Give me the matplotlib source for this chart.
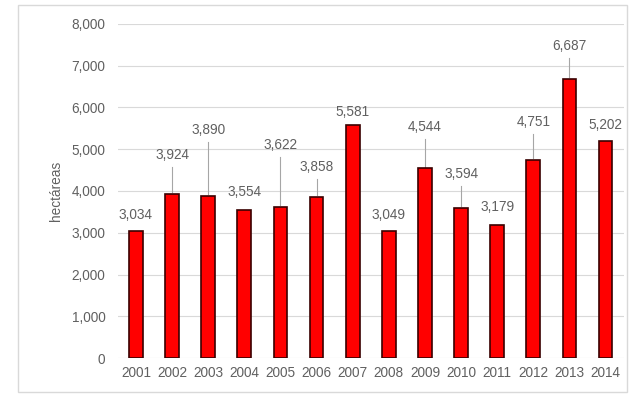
import matplotlib
matplotlib.use("Agg")
import matplotlib.pyplot as plt
from matplotlib.patches import Rectangle

years = ["2001", "2002", "2003", "2004", "2005", "2006", "2007",
         "2008", "2009", "2010", "2011", "2012", "2013", "2014"]
hectareas = [3034, 3924, 3890, 3554, 3622, 3858, 5581,
             3049, 4544, 3594, 3179, 4751, 6687, 5202]
# where each value label sits (data units)
label_y = [3425, 4862, 5461, 3976, 5102, 4575, 5892,
           3425, 5533, 4407, 3617, 5653, 7473, 5581]

plt.rcParams['font.family'] = ['Liberation Sans', 'DejaVu Sans']
txt = '#606060'
fs = 9.8

fig = plt.figure(figsize=(6.3, 3.97), dpi=100)
ax = fig.add_axes([0.187, 0.098, 0.803, 0.842])

x = list(range(len(years)))
ax.bar(x, hectareas, width=0.38, color='#ff0000', edgecolor='#3a0000',
       linewidth=1.2, zorder=3)

for i, v in enumerate(hectareas):
    ax.text(i, label_y[i], f"{v:,}", ha='center', va='center',
            fontsize=fs, color=txt, zorder=4)
    if label_y[i] - v > 500:
        ax.plot([i, i], [v + 40, label_y[i] - 290], color='#a6a6a6',
                linewidth=0.8, zorder=2)

ax.set_xlim(-0.5, len(years) - 0.5)
ax.set_ylim(0, 8000)
ax.set_yticks(range(0, 8001, 1000))
ax.set_yticklabels([f"{t:,}" for t in range(0, 8001, 1000)])
ax.set_xticks(x)
ax.set_xticklabels(years)
ax.tick_params(axis='both', length=0, labelsize=fs, colors=txt)
ax.tick_params(axis='y', pad=9)
ax.tick_params(axis='x', pad=6)
ax.grid(axis='y', color='#d9d9d9', linewidth=0.8, zorder=0)
for s in ax.spines.values():
    s.set_visible(False)
ax.set_ylabel("hectáreas", fontsize=fs, color=txt, labelpad=6)

fig.patches.append(Rectangle((0.029, 0.012), 0.966, 0.976, transform=fig.transFigure,
                             fill=False, edgecolor='#d9d9d9', linewidth=1))

fig.savefig("out.png", dpi=100)
